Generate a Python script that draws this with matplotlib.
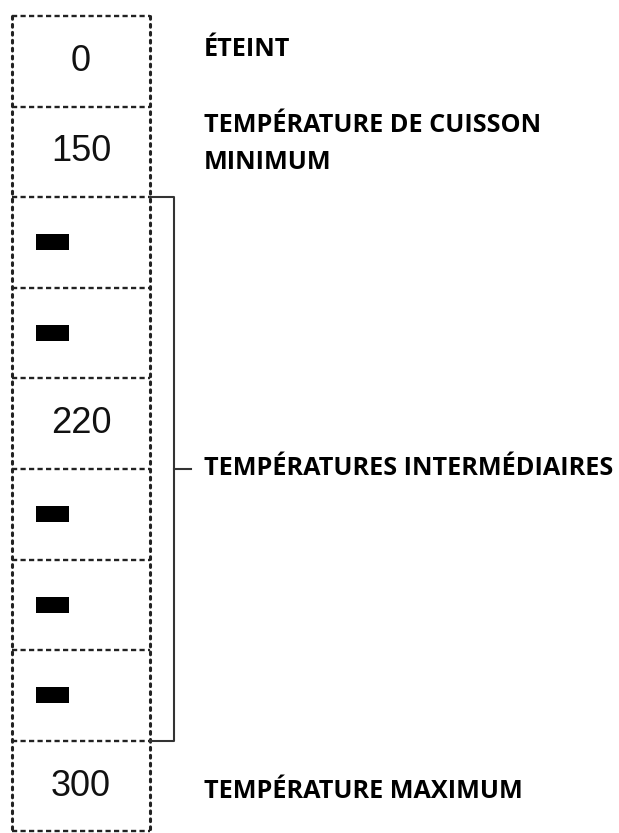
import matplotlib
matplotlib.use("Agg")
import matplotlib.pyplot as plt

# dial settings, one per row, top to bottom ("-" = black bar mark)
settings = ["0", "150", "-", "-", "220", "-", "-", "-", "300"]

# descriptions on the right: (row anchor, text)
desc_rows = [0.5, 1.5, 5.0, 8.5]
desc_texts = [
    "ÉTEINT",
    "TEMPÉRATURE DE CUISSON\nMINIMUM",
    "TEMPÉRATURES INTERMÉDIAIRES",
    "TEMPÉRATURE MAXIMUM",
]
desc_shift = [-12, -8, 0, 5]  # px, small vertical nudge

# bracket over the intermediate rows
bracket_start, bracket_end = 2, 8

ROW_PX = 90.6
TOP_PX = 16
BOX_L, BOX_R = 12, 150
BR_X, TICK_X = 174, 191
TEXT_X = 204

W, H = 619, 833
fig = plt.figure(figsize=(W / 100, H / 100), dpi=100)
ax = fig.add_axes([0, 0, 1, 1])
ax.set_xlim(0, W)
ax.set_ylim((H - TOP_PX) / ROW_PX, -TOP_PX / ROW_PX)
ax.axis("off")

n = len(settings)

# dotted box: horizontal separators
for r in range(n + 1):
    ax.plot([BOX_L, BOX_R], [r, r], color="#222222", lw=1.7,
            linestyle=(0, (2.2, 1.4)), dash_capstyle="butt")
# dotted box: vertical sides
for x in (BOX_L, BOX_R):
    ax.plot([x, x], [0, n], color="#222222", lw=2.2,
            linestyle=(0, (0.9, 1.7)), dash_capstyle="round")

# labels / bar marks inside the rows
bar_rows = [i for i, s in enumerate(settings) if s == "-"]
ax.barh([r + 0.5 for r in bar_rows], [33] * len(bar_rows), left=36,
        height=16 / ROW_PX, color="black")
for i, s in enumerate(settings):
    if s != "-":
        ax.text(81, i + 0.5, s, ha="center", va="center",
                fontsize=26, family="Liberation Sans", color="#111111")

# bracket
ax.plot([BOX_R, BR_X, BR_X, BOX_R],
        [bracket_start, bracket_start, bracket_end, bracket_end],
        color="#333333", lw=1.5)
mid = (bracket_start + bracket_end) / 2
ax.plot([BR_X, TICK_X], [mid, mid], color="#333333", lw=1.5)

# descriptions
for r, t, dy in zip(desc_rows, desc_texts, desc_shift):
    ax.text(TEXT_X, r + dy / ROW_PX, t, ha="left", va="center",
            fontsize=18.2, family="Open Sans", weight="bold", color="black",
            linespacing=1.62)

fig.savefig("out.png", dpi=100, facecolor="white")
plt.close(fig)
